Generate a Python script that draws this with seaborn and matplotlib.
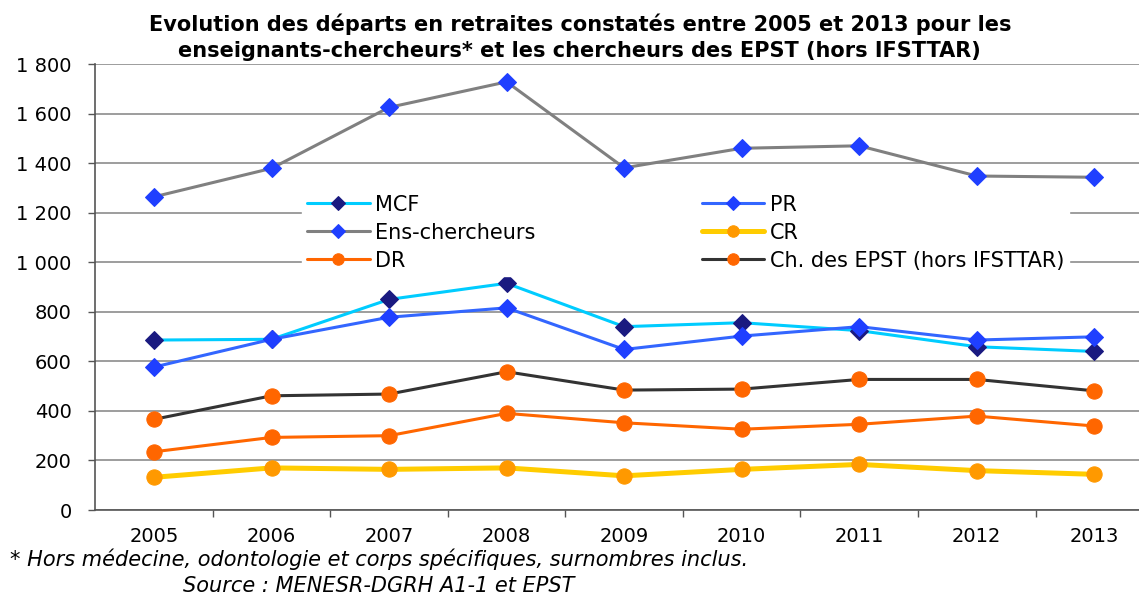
import matplotlib
matplotlib.use("Agg")
import matplotlib.pyplot as plt
import seaborn as sns
import pandas as pd

years = ["2005", "2006", "2007", "2008", "2009", "2010", "2011", "2012", "2013"]
mcf = [686, 689, 850, 915, 740, 756, 724, 659, 640]
pr = [577, 689, 778, 816, 648, 702, 740, 686, 699]
ens_chercheurs = [1264, 1379, 1625, 1728, 1381, 1460, 1470, 1348, 1343]
cr = [132, 170, 164, 170, 138, 164, 184, 159, 144]
dr = [235, 293, 300, 390, 352, 326, 346, 379, 339]
ch_epst = [366, 461, 468, 558, 484, 488, 527, 527, 481]

y_ticks = [0, 200, 400, 600, 800, 1000, 1200, 1400, 1600, 1800]
y_labels = ["0", "200", "400", "600", "800", "1 000", "1 200", "1 400", "1 600", "1 800"]

title = ("Evolution des départs en retraites constatés entre 2005 et 2013 pour les\n"
         "enseignants-chercheurs* et les chercheurs des EPST (hors IFSTTAR)")
note = "* Hors médecine, odontologie et corps spécifiques, surnombres inclus."
source = "Source : MENESR-DGRH A1-1 et EPST"

sns.set_style("white")
plt.rcParams["font.family"] = ["DejaVu Sans"]
plt.rcParams["text.color"] = "black"

fig = plt.figure(figsize=(11.39, 5.94), dpi=100)
ax = fig.add_axes([0.0836, 0.1414, 0.9164, 0.7508])

# (label, values, line colour, marker, marker colour, line width, marker size)
series = [
    ("CR", cr, "#FFCC00", "o", "#FF9900", 3.6, 11),
    ("DR", dr, "#FF6600", "o", "#FF6600", 2.2, 11),
    ("Ch. des EPST (hors IFSTTAR)", ch_epst, "#333333", "o", "#FF6600", 2.2, 11),
    ("MCF", mcf, "#00CCFF", "D", "#1A1A80", 2.2, 9),
    ("PR", pr, "#3366FF", "D", "#1F3FFF", 2.2, 9),
    ("Ens-chercheurs", ens_chercheurs, "#808080", "D", "#1F3FFF", 2.2, 9),
]

for label, vals, lc, mk, mc, lw, ms in series:
    df = pd.DataFrame({"year": years, "value": vals})
    sns.lineplot(data=df, x="year", y="value", ax=ax, color=lc, linewidth=lw,
                 marker=mk, markersize=ms, markerfacecolor=mc, markeredgecolor=mc,
                 label=label)

ax.set_xlim(-0.5, 8.38)
ax.set_ylim(0, 1800)
ax.set_yticks(y_ticks)
ax.set_yticklabels(y_labels)
ax.set_xlabel("")
ax.set_ylabel("")
ax.yaxis.grid(True, color="#8c8c8c", linewidth=1.2)
ax.set_axisbelow(True)
for s in ["top", "right"]:
    ax.spines[s].set_visible(False)
for s in ["left", "bottom"]:
    ax.spines[s].set_color("#555555")
    ax.spines[s].set_linewidth(1.2)

ax.tick_params(axis="y", length=5, width=1, color="#555555", labelcolor="black",
               pad=12, labelsize=14, left=True)
ax.set_xticks([i - 0.5 for i in range(1, 9)], minor=True)
ax.tick_params(axis="x", which="minor", length=5, width=1, color="#555555", bottom=True)
ax.tick_params(axis="x", which="major", length=0, pad=12, labelsize=14, labelcolor="black")

handles, labels = ax.get_legend_handles_labels()
hmap = dict(zip(labels, handles))
order = ["MCF", "Ens-chercheurs", "DR", "PR", "CR", "Ch. des EPST (hors IFSTTAR)"]
leg = ax.legend([hmap[k] for k in order], order, ncol=2, loc="upper left",
                bbox_to_anchor=(0.188, 0.742), frameon=True, framealpha=1,
                facecolor="white", edgecolor="white", fontsize=15,
                handlelength=3.0, handletextpad=0.25, columnspacing=8.0,
                labelspacing=0.38, numpoints=1, fancybox=False, borderpad=0.25,
                markerscale=0.75, labelcolor="black")

fig.text(0.509, 0.978, title, ha="center", va="top", fontsize=15,
         fontweight="bold", linespacing=1.38)
fig.text(0.009, 0.058, note, ha="left", va="center", fontsize=15, style="italic")
fig.text(0.161, 0.014, source, ha="left", va="center", fontsize=15, style="italic")

fig.savefig("out.png", dpi=100)
